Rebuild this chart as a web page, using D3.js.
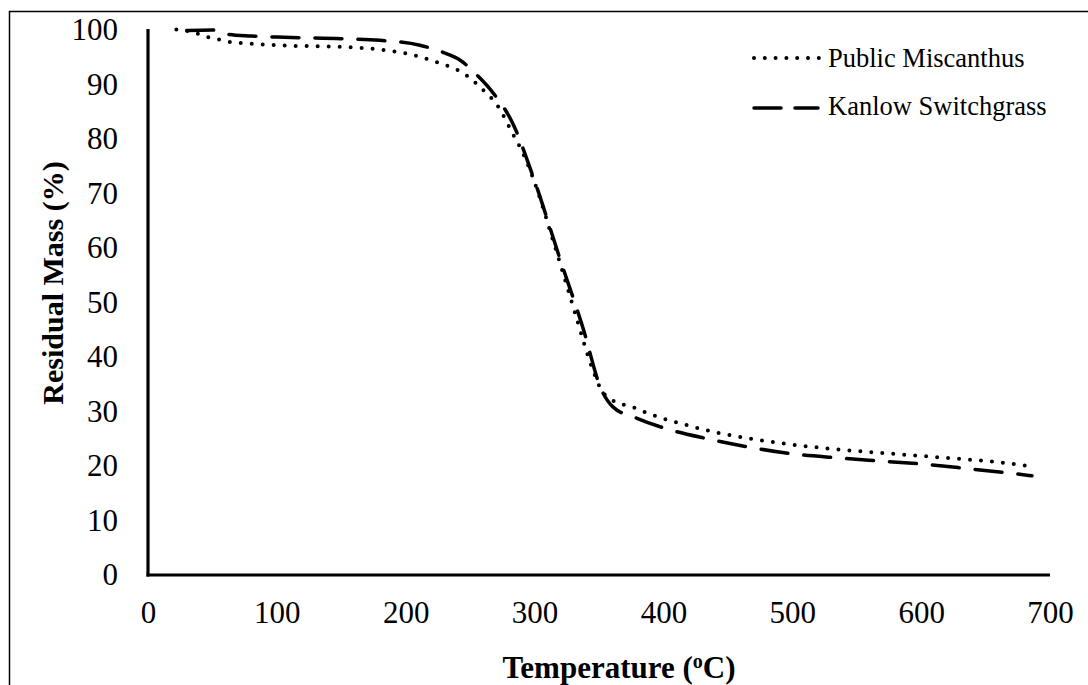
<!DOCTYPE html>
<html>
<head>
<meta charset="utf-8">
<script src="https://d3js.org/d3.v7.min.js"></script>
<style>
body { margin: 0; background: #fff; }
text { font-family: "Liberation Serif", "Times New Roman", serif; fill: #000; }
</style>
</head>
<body>
<svg width="1088" height="685"></svg>
<script>
// Public Miscanthus (dotted)
const tempMiscanthus = [22, 35, 45, 56, 64, 80, 100, 150, 180, 200, 224, 247, 260, 271, 283, 291, 303, 313, 323, 333, 343, 352, 361, 376, 391, 415, 440, 465, 491, 524, 558, 591, 625, 660, 684];
const massMiscanthus = [100.1, 99.6, 98.8, 98.2, 97.8, 97.5, 97.2, 96.9, 96.4, 95.7, 94.1, 91.7, 89.0, 86.2, 81.0, 77.4, 70.0, 62.4, 54.7, 46.8, 39.1, 33.9, 32.0, 30.8, 29.4, 27.7, 26.2, 25.1, 24.2, 23.3, 22.6, 22.0, 21.4, 20.7, 20.0];
// Kanlow Switchgrass (dashed)
const tempKanlow = [30, 50, 62, 80, 100, 150, 180, 211, 230, 242, 255, 268, 283, 299, 320, 338, 351, 361, 379, 400, 434, 468, 501, 535, 569, 604, 637, 672, 686];
const massKanlow = [99.9, 100, 99.2, 98.9, 98.7, 98.4, 98.1, 97.2, 95.8, 94.5, 91.8, 88.4, 82.9, 73.0, 57.8, 45.0, 34.5, 30.8, 28.8, 27.0, 25.0, 23.4, 22.2, 21.5, 20.9, 20.3, 19.5, 18.6, 18.2];

const xTicks = [0, 100, 200, 300, 400, 500, 600, 700];
const yTicks = [0, 10, 20, 30, 40, 50, 60, 70, 80, 90, 100];
const seriesNames = ["Public Miscanthus", "Kanlow Switchgrass"];

const svg = d3.select("svg");
const xs = d3.scaleLinear().domain([0, 700]).range([148, 1050]);
const ys = d3.scaleLinear().domain([0, 100]).range([575, 30]);

// outer frame, cut off at right and bottom
svg.append("rect").attr("x", 9.5).attr("y", 11.5).attr("width", 1100).attr("height", 700)
  .attr("fill", "none").attr("stroke", "#000").attr("stroke-width", 1.5);

// axes
const gx = svg.append("g").attr("transform", "translate(0,575)")
  .call(d3.axisBottom(xs).tickValues(xTicks).tickSize(0).tickPadding(26));
const gy = svg.append("g").attr("transform", "translate(148,0)")
  .call(d3.axisLeft(ys).tickValues(yTicks).tickSize(0).tickPadding(30));
[gx, gy].forEach(g => {
  g.select(".domain").attr("stroke", "#000").attr("stroke-width", 3.2);
  g.selectAll("text").style("font-family", "Liberation Serif").style("font-size", "31px").attr("fill", "#000");
});
gx.select(".domain").attr("d", "M146.5,0H1050");
gy.select(".domain").attr("d", "M0,29V576.5");

const line = d3.line().x(d => xs(d[0])).y(d => ys(d[1])).curve(d3.curveMonotoneX);
const dataMiscanthus = tempMiscanthus.map((t, i) => [t, massMiscanthus[i]]);
const dataKanlow = tempKanlow.map((t, i) => [t, massKanlow[i]]);

svg.append("path").datum(dataKanlow).attr("d", line)
  .attr("fill", "none").attr("stroke", "#000").attr("stroke-width", 3.5)
  .attr("stroke-linecap", "round").attr("stroke-dasharray", "27,16");
svg.append("path").datum(dataMiscanthus).attr("d", line)
  .attr("fill", "none").attr("stroke", "#000").attr("stroke-width", 4)
  .attr("stroke-linecap", "round").attr("stroke-dasharray", "0,11");

// legend
const legend = svg.append("g");
legend.append("line").attr("x1", 754).attr("x2", 819).attr("y1", 58).attr("y2", 58)
  .attr("stroke", "#000").attr("stroke-width", 4).attr("stroke-linecap", "round").attr("stroke-dasharray", "0,10.8");
legend.append("line").attr("x1", 754).attr("x2", 818).attr("y1", 108).attr("y2", 108)
  .attr("stroke", "#000").attr("stroke-width", 3.5).attr("stroke-linecap", "round").attr("stroke-dasharray", "27,14");
legend.selectAll("text.lg").data(seriesNames).enter().append("text").attr("class", "lg")
  .attr("x", 828).attr("y", (d, i) => 67 + i * 48)
  .style("font-size", "26.5px").text(d => d);

// axis titles
svg.append("text").attr("transform", "translate(63,283) rotate(-90)")
  .attr("text-anchor", "middle").style("font-size", "30px").style("font-weight", "bold")
  .text("Residual Mass (%)");
const xt = svg.append("text").attr("x", 619).attr("y", 678)
  .attr("text-anchor", "middle").style("font-size", "31px").style("font-weight", "bold");
xt.append("tspan").text("Temperature (");
xt.append("tspan").attr("dy", -10).style("font-size", "20px").text("o");
xt.append("tspan").attr("dy", 10).text("C)");
</script>
</body>
</html>
